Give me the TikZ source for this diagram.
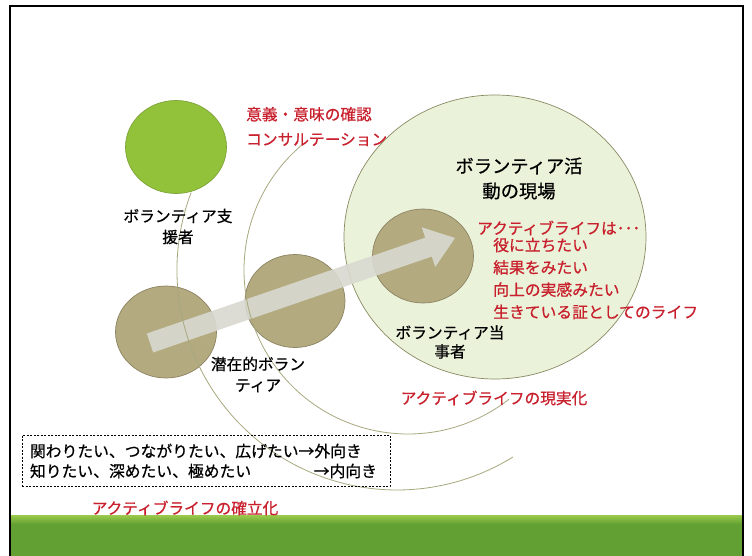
\documentclass[tikz,border=0pt]{standalone}
\usepackage{fontspec}
\setmainfont{Noto Sans CJK JP}[FakeBold=0.6]
\usetikzlibrary{shapes.geometric}
\definecolor{leafgreen}{HTML}{92C23A}
\definecolor{leafedge}{HTML}{7FA33A}
\definecolor{khaki}{HTML}{B3AA80}
\definecolor{khakiedge}{HTML}{8C8462}
\definecolor{paleleaf}{HTML}{EBF2DA}
\definecolor{paleedge}{HTML}{8A8A62}
\definecolor{arcgray}{HTML}{A8A87E}
\definecolor{redtext}{HTML}{C8202D}
\definecolor{bandlight}{HTML}{9BCB4C}
\definecolor{banddark}{HTML}{62A033}
\definecolor{arrowgray}{HTML}{D9D9D1}
\begin{document}
\begin{tikzpicture}[x=1pt,y=-1pt,
  disc/.style={ellipse, inner sep=0pt, line width=0.7pt},
  lbl/.style={font=\fontsize{15.7}{21}\selectfont, inner sep=0pt, align=center, text=black},
  redlbl/.style={lbl, text=redtext},
  arcline/.style={draw=arcgray, line width=0.8pt}
]
\useasboundingbox (0,0) rectangle (752,556);
\fill[white] (0,0) rectangle (752,556);
% bottom band
\shade[top color=bandlight, bottom color=banddark] (10,515) rectangle (743,524);
\fill[banddark] (10,524) rectangle (743,556);
\draw[line width=1.8pt] (10,560) -- (10,6) -- (743,6) -- (743,560);
% circles
\node[disc, fill=paleleaf, draw=paleedge, minimum width=302pt, minimum height=284pt] (field) at (495,237) {};
\node[disc, fill=khaki, draw=khakiedge, minimum width=101pt, minimum height=94pt] (party) at (423,256) {};
\node[disc, fill=khaki, draw=khakiedge, minimum width=100pt, minimum height=93pt] (latentM) at (295,301) {};
\node[disc, fill=khaki, draw=khakiedge, minimum width=101pt, minimum height=92pt] (latentL) at (166,332) {};
\node[disc, fill=leafgreen, draw=leafedge, minimum width=101pt, minimum height=93pt] (support) at (176,147) {};
% big arrow
\fill[arrowgray, opacity=0.9] (146.75,333.55) -- (425.25,237.65) -- (421.7,227.3) -- (455,238) -- (435.3,266.9) -- (431.75,256.55) -- (153.25,352.45) -- cycle;
% arcs
\draw[arcline] (397,270) ++(200.6:220) arc[start angle=200.6, end angle=58.2, radius=220];
\draw[arcline] (408,270) ++(229.7:164) arc[start angle=229.7, end angle=52, radius=164];
% texts
\node[redlbl, align=left, anchor=west, font=\fontsize{15.7}{25}\selectfont] (consult) at (246,126.5) {意義・意味の確認\\コンサルテーション};
\node[lbl] (supportlbl) at (178,226.5) {ボランティア支\\援者};
\node[lbl, font=\fontsize{18.3}{25}\selectfont] (fieldlbl) at (519,178.5) {ボランティア活\\動の現場};
\node[redlbl, anchor=west] (alhead) at (477,228) {アクティブライフは･･･};
\node[redlbl, align=left, anchor=west, font=\fontsize{15.8}{22.3}\selectfont] (allist) at (493,278.5) {役に立ちたい\\結果をみたい\\向上の実感みたい\\生きている証としてのライフ};
\node[lbl, font=\fontsize{15.7}{19}\selectfont] (partylbl) at (450,342) {ボランティア当\\事者};
\node[lbl] (latentlbl) at (258,374.5) {潜在的ボラン\\ティア};
\node[redlbl] (real) at (494,398) {アクティブライフの現実化};
\node[draw=black, line width=0.8pt, dash pattern=on 2pt off 1.5pt, minimum width=368pt, minimum height=51pt, inner sep=0pt] (box) at (206,460.5) {};
\node[lbl, font=\fontsize{15.8}{20}\selectfont, align=left] (boxtxt) at (203.5,461) {関わりたい、つながりたい、広げたい→外向き\\\makebox[347pt]{知りたい、深めたい、極めたい\hfill→内向き}};
\node[redlbl] (establish) at (185,508) {アクティブライフの確立化};
\end{tikzpicture}
\end{document}
